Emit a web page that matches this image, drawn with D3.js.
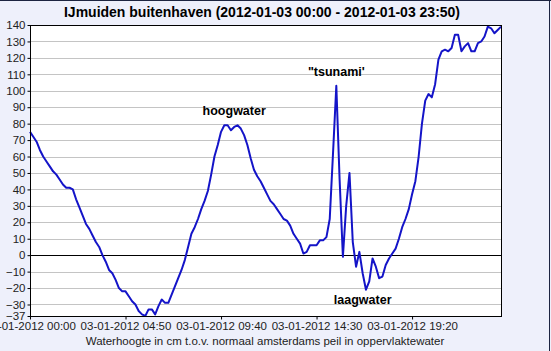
<!DOCTYPE html>
<html>
<head>
<meta charset="utf-8">
<script src="https://cdn.jsdelivr.net/npm/d3@7"></script>
<style>
  body { margin: 0; background: #eef0fb; }
  svg { display: block; font-family: "Liberation Sans", Arial, sans-serif; }
  .grid line { stroke: #c4c4c4; }
  .tick text { fill: #222; }
</style>
</head>
<body>
<svg id="chart" width="551" height="351"></svg>
<script>
// waterhoogte (cm), elke 10 minuten vanaf 00:00
const values = [
  75, 72, 69, 64, 60, 57, 54, 51, 49, 46,
  43, 41, 41, 40, 34, 29, 24, 19, 16, 12,
  8, 5, 0, -4, -9, -11, -15, -20, -22, -22,
  -25, -28, -30, -34, -36, -37, -33, -33, -36, -31,
  -27, -29, -29, -24, -19, -14, -9, -3, 5, 13,
  17, 22, 28, 33, 39, 49, 60, 67, 75, 79,
  79, 76, 78, 79, 77, 73, 67, 59, 52, 48,
  45, 41, 37, 33, 31, 28, 25, 22, 21, 18,
  13, 10, 7, 1, 2, 6, 6, 6, 9, 9,
  11, 22, 62, 103, 46, -1, 30, 50, 8, -7,
  2, -11, -21, -16, -2, -7, -14, -13, -6, -2,
  1, 4, 10, 17, 22, 28, 37, 45, 60, 80,
  94, 98, 96, 104, 119, 124, 125, 124, 126, 134,
  134, 124, 127, 129, 124, 124, 129, 130, 133, 139,
  138, 135, 137, 139
];
const yTicks = [140, 130, 120, 110, 100, 90, 80, 70, 60, 50, 40, 30, 20, 10, 0, -10, -20, -30, -37];
const xTicks = [0, 290, 580, 870, 1160];  // minuten
const xTickLabels = ["03-01-2012 00:00", "03-01-2012 04:50", "03-01-2012 09:40", "03-01-2012 14:30", "03-01-2012 19:20"];
const notes = [
  { text: "hoogwater", t: 620, v: 85 },
  { text: "\"tsunami'", t: 930, v: 109 },
  { text: "laagwater", t: 1010, v: -30 }
];

const svg = d3.select("#chart");
const margin = { left: 30, right: 50, top: 25, bottom: 35 };
const W = 551, H = 351;

// rand
svg.append("line").attr("x1", 0).attr("x2", W).attr("y1", 0.5).attr("y2", 0.5).attr("stroke", "#1c2440");
svg.append("line").attr("x1", 549.5).attr("x2", 549.5).attr("y1", 0).attr("y2", H).attr("stroke", "#1c2440");

const x = d3.scaleLinear().domain([0, 1430]).range([margin.left, W - margin.right]);
const y = d3.scaleLinear().domain([-37, 140]).range([H - margin.bottom, margin.top]);

svg.append("rect")
  .attr("x", x(0)).attr("y", y(140))
  .attr("width", x(1430) - x(0)).attr("height", y(-37) - y(140))
  .attr("fill", "#fff");

svg.append("g").attr("class", "grid")
  .selectAll("line")
  .data(yTicks.filter(d => d !== 0 && d !== 140 && d !== -37))
  .join("line")
  .attr("x1", x(0)).attr("x2", x(1430))
  .attr("y1", d => Math.round(y(d)) + 0.5).attr("y2", d => Math.round(y(d)) + 0.5);

svg.append("line")
  .attr("x1", x(0)).attr("x2", x(1430))
  .attr("y1", Math.round(y(0)) + 0.5).attr("y2", Math.round(y(0)) + 0.5)
  .attr("stroke", "#000");

const line = d3.line()
  .x((d, i) => x(i * 10))
  .y(d => y(d));

svg.append("path")
  .datum(values)
  .attr("fill", "none")
  .attr("stroke", "#1414c8")
  .attr("stroke-width", 2)
  .attr("stroke-linejoin", "round")
  .attr("d", line);

svg.append("rect")
  .attr("x", x(0) + 0.5).attr("y", y(140) + 0.5)
  .attr("width", x(1430) - x(0)).attr("height", y(-37) - y(140))
  .attr("fill", "none").attr("stroke", "#000");

const yAxis = svg.append("g")
  .attr("transform", `translate(${x(0) + 0.5},0)`)
  .call(d3.axisLeft(y).tickValues(yTicks).tickSize(3).tickPadding(2));
yAxis.select(".domain").remove();
yAxis.selectAll("text").attr("font-size", 11.5).attr("font-family", "Liberation Sans, Arial");

const xAxis = svg.append("g")
  .attr("transform", `translate(0,${y(-37) + 0.5})`)
  .call(d3.axisBottom(x).tickValues(xTicks).tickSize(3).tickPadding(2)
    .tickFormat((d, i) => xTickLabels[i]));
xAxis.select(".domain").remove();
xAxis.selectAll("text").attr("font-size", 11.5).attr("font-family", "Liberation Sans, Arial");

svg.append("text")
  .attr("x", 262).attr("y", 17)
  .attr("text-anchor", "middle")
  .attr("font-size", 14).attr("font-weight", "bold")
  .text("IJmuiden buitenhaven (2012-01-03 00:00 - 2012-01-03 23:50)");

svg.append("text")
  .attr("x", 265).attr("y", 345)
  .attr("text-anchor", "middle")
  .attr("font-size", 11.5)
  .attr("fill", "#222")
  .text("Waterhoogte in cm t.o.v. normaal amsterdams peil in oppervlaktewater");

svg.append("g").selectAll("text")
  .data(notes)
  .join("text")
  .attr("x", d => x(d.t)).attr("y", d => y(d.v))
  .attr("text-anchor", "middle")
  .attr("font-size", 12.5).attr("font-weight", "bold")
  .text(d => d.text);
</script>
</body>
</html>
